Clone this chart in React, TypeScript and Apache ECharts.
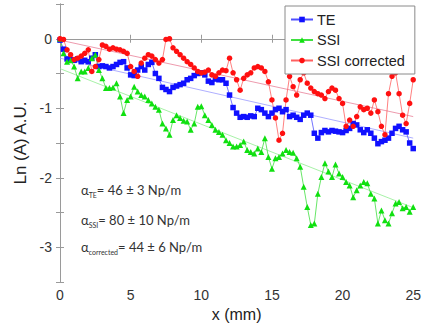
import React, { useEffect, useRef } from "react";
import * as echarts from "echarts";

const STEP = 0.25;
const teValues = [
  -0.02, -0.15, -0.29, -0.30, -0.31, -0.29, -0.33, -0.31, -0.33, -0.28,
  -0.23, -0.40, -0.39, -0.40, -0.42, -0.40, -0.37, -0.34, -0.33, -0.42,
  -0.52, -0.53, -0.45, -0.40, -0.45, -0.37, -0.34, -0.50, -0.57, -0.70,
  -0.73, -0.76, -0.70, -0.68, -0.66, -0.64, -0.59, -0.57, -0.53, -0.50,
  -0.49, -0.52, -0.61, -0.63, -0.58, -0.59, -0.59, -0.64, -0.81, -0.99,
  -1.07, -1.13, -1.12, -1.13, -1.11, -1.12, -1.00, -1.02, -1.07, -1.12,
  -1.07, -1.02, -1.00, -1.05, -1.02, -1.12, -1.10, -1.13, -1.16, -1.10,
  -1.07, -1.10, -1.36, -1.43, -1.35, -1.32, -1.34, -1.32, -1.33, -1.34,
  -1.35, -1.32, -1.29, -1.22, -1.24, -1.31, -1.35, -1.31, -1.36, -1.43,
  -1.51, -1.48, -1.46, -1.43, -1.36, -1.29, -1.26, -1.31, -1.34, -1.50, -1.58,
];
const ssiValues = [
  0, -0.21, -0.33, -0.31, -0.40, -0.57, -0.47, -0.47, -0.42, -0.28,
  -0.23, -0.45, -0.57, -0.71, -0.71, -0.70, -0.64, -0.83, -1.07, -0.88,
  -0.83, -0.69, -0.76, -0.81, -0.83, -0.88, -0.93, -0.98, -1.02, -1.22,
  -1.29, -1.38, -1.17, -1.10, -1.14, -1.18, -1.19, -1.31, -1.22, -0.98,
  -0.97, -1.10, -1.17, -1.24, -1.31, -1.34, -1.38, -1.46, -1.50, -1.55,
  -1.55, -1.53, -1.48, -1.60, -1.63, -1.65, -1.58, -1.63, -1.43, -1.70,
  -1.87, -1.72, -1.70, -1.65, -1.60, -1.63, -1.64, -1.72, -1.84, -2.13,
  -2.42, -2.68, -2.66, -2.23, -1.99, -1.79, -1.91, -1.99, -1.81, -1.94,
  -1.99, -2.06, -2.11, -2.28, -2.18, -2.11, -2.06, -2.08, -2.23, -2.30,
  -2.66, -2.47, -2.61, -2.66, -2.51, -2.37, -2.35, -2.44, -2.42, -2.49, -2.42,
];
const correctedValues = [
  0, -0.01, -0.16, -0.23, -0.30, -0.28, -0.25, -0.21, -0.16, -0.47,
  -0.40, -0.30, -0.09, -0.11, -0.15, -0.13, -0.15, -0.16, -0.18, -0.21,
  -0.40, -0.47, -0.54, -0.35, -0.28, -0.23, -0.25, -0.30, -0.35, -0.30,
  -0.01, 0.0, -0.13, -0.18, -0.23, -0.28, -0.33, -0.37, -0.42, -0.47,
  -0.49, -0.48, -0.45, -0.52, -0.54, -0.49, -0.45, -0.46, -0.28, -0.49,
  -0.59, -0.74, -0.57, -0.52, -0.49, -0.42, -0.40, -0.42, -0.47, -0.62,
  -0.88, -1.14, -1.46, -1.36, -0.88, -0.54, -0.69, -0.81, -0.59, -0.49,
  -0.64, -0.71, -0.76, -0.79, -0.81, -0.86, -0.76, -0.71, -0.74, -0.86,
  -0.93, -1.26, -1.17, -1.26, -1.12, -0.98, -1.02, -1.00, -1.07, -0.88,
  -1.05, -1.26, -1.38, -0.79, -0.54, -0.49, -0.79, -1.10, -1.22, -0.93, -0.59,
];
const fitTE = [[0, -0.28], [25, -1.43]];
const fitSSI = [[0, -0.43], [25, -2.43]];
const fitCorrected = [[0, -0.02], [25, -1.12]];
const xTicks = { min: 0, max: 25, interval: 5 };
const yTicks = { min: -3.5, max: 0.5, interval: 0.5 };

const toPairs = (vals: number[]) => vals.map((v, i) => [i * STEP, v]);

const FONT = "'Liberation Sans', Arial, sans-serif";
const AXIS_COLOR = "#9a9a9a";

export default function App() {
  const ref = useRef<HTMLDivElement>(null);
  useEffect(() => {
    if (!ref.current) return;
    const chart = echarts.init(ref.current, undefined, { renderer: "svg" });
    const baseAxisLine = { show: true, lineStyle: { color: AXIS_COLOR, width: 1 } };
    const tick = { show: true, inside: true, length: 4, lineStyle: { color: AXIS_COLOR } };
    const ann = (label: string, sub: string, rest: string, y: number) => ({
      type: "text",
      left: 81,
      top: y,
      style: {
        text: `{a|${label}}{s|${sub}}{a|${rest}}`,
        rich: {
          a: { fontSize: 13, fontFamily: "Lato, 'Open Sans', sans-serif", fill: "#333", lineHeight: 16, verticalAlign: "bottom" },
          s: { fontSize: 7, fontFamily: "Lato, 'Open Sans', sans-serif", fill: "#333", lineHeight: 16, verticalAlign: "bottom", padding: [0, 0, -2, 0] },
        },
      },
    });
    chart.setOption({
      animation: false,
      backgroundColor: "#fff",
      grid: { left: 60, right: 5, top: 4, bottom: 47, containLabel: false },
      legend: {
        left: 285,
        top: 6,
        orient: "vertical",
        data: ["TE", "SSI", "SSI corrected"],
        backgroundColor: "#fff",
        borderColor: "#8a8a8a",
        borderWidth: 1,
        borderRadius: 0,
        padding: [6, 10, 6, 5],
        itemGap: 5.5,
        itemWidth: 22,
        itemHeight: 7,
        textStyle: { fontSize: 14.5, lineHeight: 14, fontFamily: FONT, color: "#222", padding: [0, 0, 0, -1] },
      },
      xAxis: [
        {
          type: "value",
          ...xTicks,
          name: "x (mm)",
          nameLocation: "middle",
          nameGap: 23,
          nameTextStyle: { fontSize: 16, fontFamily: FONT, color: "#222" },
          axisLine: baseAxisLine,
          axisTick: tick,
          splitLine: { show: false },
          axisLabel: { fontSize: 14, fontFamily: FONT, color: "#333", margin: 6, showMaxLabel: true },
        },
        {
          type: "value",
          ...xTicks,
          position: "top",
          axisLine: baseAxisLine,
          axisTick: tick,
          splitLine: { show: false },
          axisLabel: { show: false },
        },
      ],
      yAxis: [
        {
          type: "value",
          ...yTicks,
          name: "Ln (A) A.U.",
          nameLocation: "middle",
          nameGap: 30,
          nameTextStyle: { fontSize: 17, fontFamily: FONT, color: "#222" },
          axisLine: baseAxisLine,
          axisTick: tick,
          splitLine: { show: false },
          axisLabel: {
            fontSize: 14,
            fontFamily: FONT,
            color: "#333",
            margin: 8,
            formatter: (v: number) => (Number.isInteger(v) && v <= 0 && v >= -3 ? String(v) : ""),
          },
        },
        {
          type: "value",
          ...yTicks,
          position: "right",
          axisLine: baseAxisLine,
          axisTick: tick,
          splitLine: { show: false },
          axisLabel: { show: false },
        },
      ],
      series: [
        {
          name: "TE fit",
          type: "line",
          data: fitTE,
          symbol: "none",
          lineStyle: { color: "#9a9aff", width: 0.8 },
          silent: true,
        },
        {
          name: "SSI fit",
          type: "line",
          data: fitSSI,
          symbol: "none",
          lineStyle: { color: "#90ee90", width: 0.8 },
          silent: true,
        },
        {
          name: "corrected fit",
          type: "line",
          data: fitCorrected,
          symbol: "none",
          lineStyle: { color: "#e88098", width: 0.8 },
          silent: true,
        },
        {
          name: "TE",
          type: "line",
          data: toPairs(teValues),
          symbol: "rect",
          symbolSize: 5.5,
          itemStyle: { color: "#1010ff" },
          lineStyle: { color: "#5050ff", width: 0.8 },
        },
        {
          name: "SSI",
          type: "line",
          data: toPairs(ssiValues),
          symbol: "triangle",
          symbolSize: 6,
          itemStyle: { color: "#10e010" },
          lineStyle: { color: "#40e040", width: 0.8 },
        },
        {
          name: "SSI corrected",
          type: "line",
          data: toPairs(correctedValues),
          symbol: "circle",
          symbolSize: 5.5,
          itemStyle: { color: "#ff1010" },
          lineStyle: { color: "#ff6060", width: 0.8 },
        },
      ],
      graphic: [
        ann("α", "TE", "= 46 ± 3 Np/m", 183),
        ann("α", "SSI", "= 80 ± 10 Np/m", 213),
        ann("α", "corrected", "= 44 ± 6 Np/m", 240),
      ],
    });
    return () => chart.dispose();
  }, []);
  return (
    <div
      ref={ref}
      style={{ position: "absolute", left: 0, top: 0, width: 424, height: 329 }}
    />
  );
}
